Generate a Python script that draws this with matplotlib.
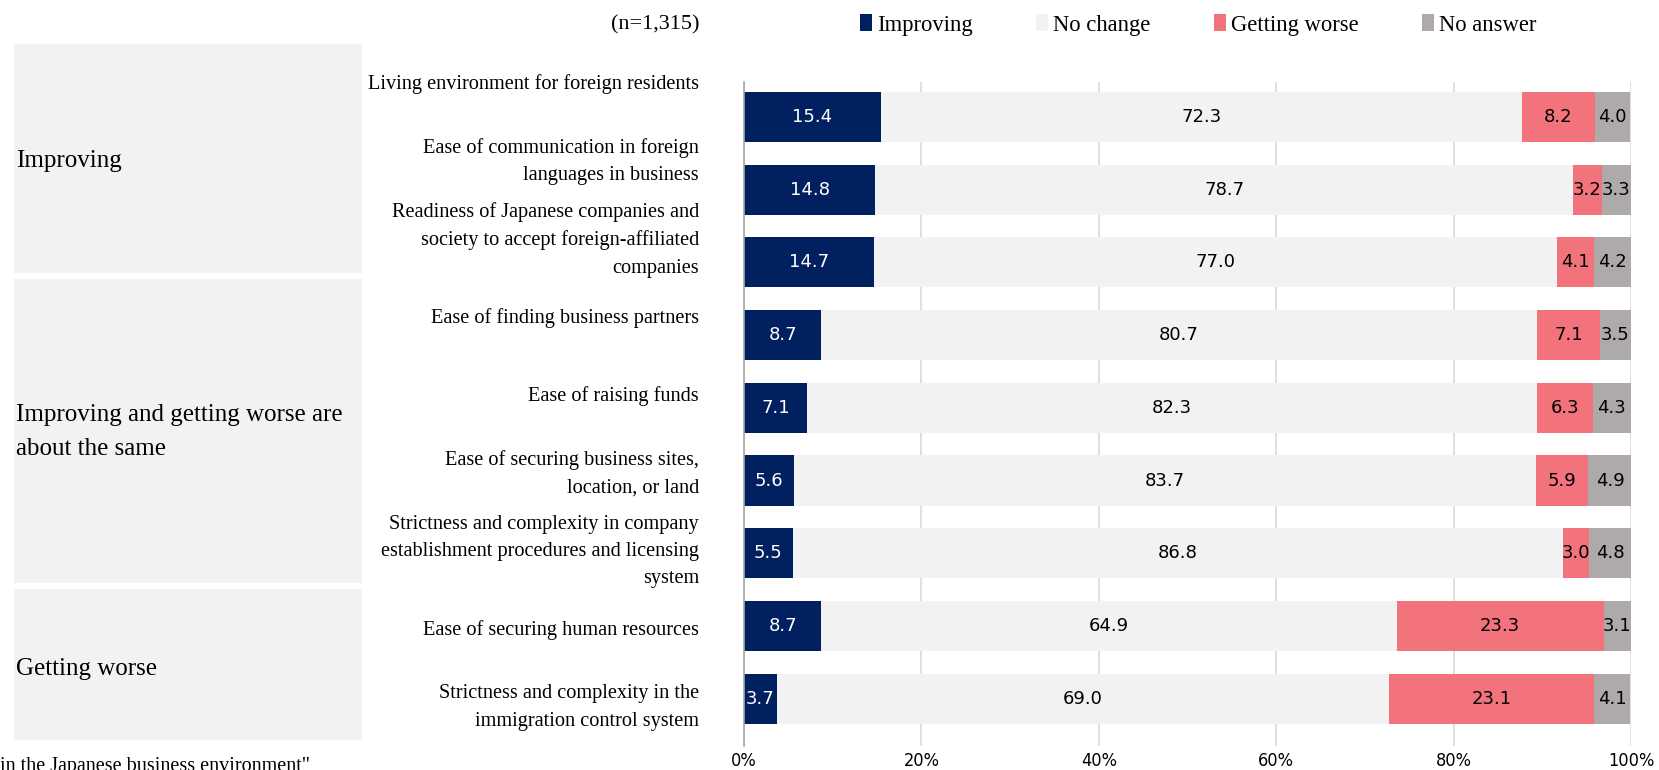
import matplotlib
matplotlib.use("Agg")
import matplotlib.pyplot as plt
import matplotlib.transforms as mtransforms
from matplotlib.patches import Rectangle
import numpy as np

# ---------------- data ----------------
categories = [
    "Living environment for foreign residents",
    "Ease of communication in foreign\nlanguages in business",
    "Readiness of Japanese companies and\nsociety to accept foreign-affiliated\ncompanies",
    "Ease of finding business partners",
    "Ease of raising funds",
    "Ease of securing business sites,\nlocation, or land",
    "Strictness and complexity in company\nestablishment procedures and licensing\nsystem",
    "Ease of securing human resources",
    "Strictness and complexity in the\nimmigration control system",
]
series_names = ["Improving", "No change", "Getting worse", "No answer"]
improving = [15.4, 14.8, 14.7, 8.7, 7.1, 5.6, 5.5, 8.7, 3.7]
no_change = [72.3, 78.7, 77.0, 80.7, 82.3, 83.7, 86.8, 64.9, 69.0]
getting_worse = [8.2, 3.2, 4.1, 7.1, 6.3, 5.9, 3.0, 23.3, 23.1]
no_answer = [4.0, 3.3, 4.2, 3.5, 4.3, 4.9, 4.8, 3.1, 4.1]
group_names = ["Improving", "Improving and getting worse are\nabout the same", "Getting worse"]
tick_values = [0, 20, 40, 60, 80, 100]
tick_labels = ["0%", "20%", "40%", "60%", "80%", "100%"]
sample_note = "(n=1,315)"
bottom_note = "in the Japanese business environment\""

# ---------------- style ----------------
colors = ["#002060", "#F2F2F2", "#F2737C", "#AEAAAA"]
text_colors = ["white", "black", "black", "black"]
serif = "Liberation Serif"
sans = "DejaVu Sans"

W, H = 1659, 770
fig = plt.figure(figsize=(W / 100, H / 100), dpi=100)

def fx(px):
    return px / W

def fy(py):
    return 1 - py / H

ax_left, ax_right, ax_top, ax_bottom = 744, 1631, 82, 746
ax = fig.add_axes([fx(ax_left), fy(ax_bottom), fx(ax_right - ax_left), (ax_bottom - ax_top) / H])

series = [improving, no_change, getting_worse, no_answer]
y = np.arange(len(categories))
left = np.zeros(len(categories))
for vals, name, col, tc in zip(series, series_names, colors, text_colors):
    vals = np.array(vals)
    ax.barh(y, vals, left=left, height=0.69, color=col, label=name, zorder=3)
    for bi, (l, v) in enumerate(zip(left, vals)):
        ax.text(l + v / 2, bi, f"{v:.1f}", ha="center", va="center", color=tc,
                fontsize=13, family=sans, zorder=4)
    left = left + vals

ax.set_xlim(0, 100)
ax.set_ylim(8.65, -0.48)
ax.set_yticks([])
ax.set_xticks(tick_values)
ax.set_xticklabels(tick_labels, family=sans, fontsize=13, fontstretch="condensed")
ax.tick_params(axis="x", length=0, pad=4)
for s in ["top", "right", "bottom"]:
    ax.spines[s].set_visible(False)
ax.spines["left"].set_color("#A6A6A6")
ax.spines["left"].set_linewidth(1.2)
ax.spines["left"].set_zorder(5)
ax.grid(axis="x", color="#D9D9D9", linewidth=1.2, zorder=0)
ax.set_axisbelow(True)

# category labels (placed on their own grid, right aligned)
trans = mtransforms.blended_transform_factory(fig.transFigure, ax.transData)
label_step = 1.072
for i, cat in enumerate(categories):
    ax.text(fx(699), -0.455 + i * label_step, cat, transform=trans, ha="right", va="center",
            family=serif, fontsize=14.6, linespacing=1.58, clip_on=False)

# group boxes
boxes = [(44, 273), (279, 583), (589, 740)]
group_y = [161, 432, 669]
for (t, b), gy, gname in zip(boxes, group_y, group_names):
    fig.add_artist(Rectangle((fx(14), fy(b)), fx(362 - 14), (b - t) / H,
                             transform=fig.transFigure, facecolor="#F2F2F2", edgecolor="none", zorder=0))
    fig.text(fx(16), fy(gy), gname, ha="left", va="center", family=serif, fontsize=18, linespacing=1.7)

# header
fig.text(fx(700), fy(25), sample_note, ha="right", va="center", family=serif, fontsize=16)
handles, labels = ax.get_legend_handles_labels()
fig.legend(handles, labels, loc="center", bbox_to_anchor=(fx(1198), fy(25)), ncol=4, frameon=False,
           prop={"family": serif, "size": 16.3}, handlelength=0.55, handleheight=0.75,
           handletextpad=0.2, columnspacing=2.8)

# bottom note (cut off by the figure edge as in the reference)
fig.text(fx(0), fy(771), bottom_note, ha="left", va="baseline", family=serif, fontsize=14.5)

fig.savefig("out.png", dpi=100)
